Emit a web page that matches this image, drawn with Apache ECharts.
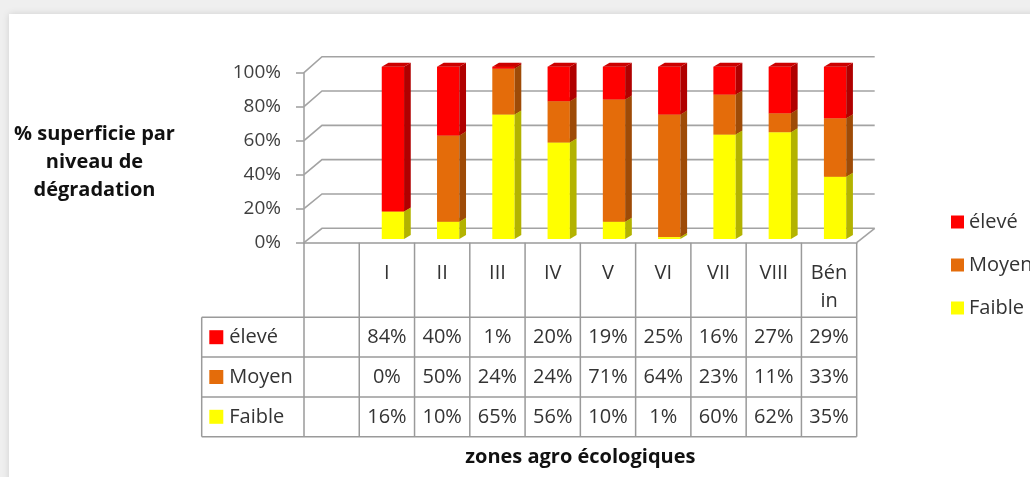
<!DOCTYPE html>
<html>
<head>
<meta charset="utf-8">
<script src="https://cdn.jsdelivr.net/npm/echarts@6/dist/echarts.min.js"></script>
<style>
  html, body { margin: 0; padding: 0; width: 1030px; height: 477px; overflow: hidden; background: #efefef; }
  #panel { position: absolute; left: 9px; top: 14px; width: 1100px; height: 520px; background: #fff; box-shadow: 0 0 7px rgba(0,0,0,0.13); }
  #chart { position: absolute; left: 0; top: 0; width: 1030px; height: 477px; }
</style>
</head>
<body>
<div id="panel"></div>
<div id="chart"></div>
<script>
// ---- data ----
const categories = ['', 'I', 'II', 'III', 'IV', 'V', 'VI', 'VII', 'VIII', 'Bénin'];
const eleve  = [null, 84, 40, 1, 20, 19, 25, 16, 27, 29];
const moyen  = [null, 0, 50, 24, 24, 71, 64, 23, 11, 33];
const faible = [null, 16, 10, 65, 56, 10, 1, 60, 62, 35];
const seriesNames = ['élevé', 'Moyen', 'Faible'];
const yTicks = [0, 20, 40, 60, 80, 100];
const yAxisTitle = '% superficie par\nniveau de\ndégradation';
const xAxisTitle = 'zones agro écologiques';

// ---- styles ----
const FONT = '"Open Sans", "Liberation Sans", sans-serif';
const TXT = '#333333';
const GRID_COLOR = '#a3a3a3';
const TABLE_COLOR = '#9a9a9a';
const palette = {
  'élevé':  { front: '#FF0000', side: '#B00000', top: '#CC0000' },
  'Moyen':  { front: '#E46C0A', side: '#9E4B07', top: '#C05B08' },
  'Faible': { front: '#FFFF00', side: '#B3B300', top: '#DADA00' }
};
const rowValues = [eleve, moyen, faible];

// wrap a label character by character to fit a cell width (like the spreadsheet table)
const measureCtx = document.createElement('canvas').getContext('2d');
function wrapToWidth(text, maxW, font) {
  measureCtx.font = font;
  const lines = [];
  let cur = '';
  for (const ch of text) {
    if (cur && measureCtx.measureText(cur + ch).width > maxW) { lines.push(cur); cur = ch; }
    else cur += ch;
  }
  if (cur) lines.push(cur);
  return lines.join('\n');
}

// ---- 100% stacked segments (bottom-up: Faible, Moyen, élevé) ----
const stackOrder = [['Faible', faible], ['Moyen', moyen], ['élevé', eleve]];
const segs = { 'Faible': [], 'Moyen': [], 'élevé': [] };
for (let i = 0; i < categories.length; i++) {
  if (eleve[i] == null) continue;
  const total = eleve[i] + moyen[i] + faible[i];
  let cum = 0;
  stackOrder.forEach(([name, arr]) => {
    const lo = cum / total * 100;
    cum += arr[i];
    const hi = cum / total * 100;
    segs[name].push([i, lo, hi]);
  });
}

function barRenderer(cols) {
  return function (params, api) {
    const i = api.value(0), lo = api.value(1), hi = api.value(2);
    if (hi - lo <= 0) return;
    const a = api.coord([i, lo]), b = api.coord([i, hi]);
    const w = 22.3, cx = a[0] + 6;
    const xl = cx - w / 2, xr = cx + w / 2;
    const yb = a[1] - 3.7 - 0.023 * lo;
    const yt = b[1] - 3.7 - 0.023 * hi;
    const dx = 6.7, dy = -4;
    return {
      type: 'group',
      children: [
        { type: 'rect', shape: { x: xl, y: yt, width: w, height: yb - yt }, style: { fill: cols.front } },
        { type: 'polygon', shape: { points: [[xr, yb], [xr + dx, yb + dy], [xr + dx, yt + dy], [xr, yt]] }, style: { fill: cols.side } },
        { type: 'polygon', shape: { points: [[xl, yt], [xr, yt], [xr + dx, yt + dy], [xl + dx, yt + dy]] }, style: { fill: cols.top } }
      ]
    };
  };
}

function wallRenderer(params, api) {
  const v = api.value(1);
  const p = api.coord([0, v]);
  const cs = params.coordSys;
  const x0 = cs.x, x1 = cs.x + cs.width;
  const dx = 18, dy = -14.4 - 0.016 * v;
  const children = [{
    type: 'polyline',
    shape: { points: [[x0, p[1]], [x0 + dx, p[1] + dy], [x1 + dx, p[1] + dy]] },
    style: { stroke: GRID_COLOR, lineWidth: 1.6, fill: null }
  }];
  if (v === 0) {
    children.push({ type: 'line', shape: { x1: x1, y1: p[1], x2: x1 + dx, y2: p[1] + dy },
      style: { stroke: GRID_COLOR, lineWidth: 1.6 } });
  }
  return { type: 'group', children };
}

function tableRenderer(params, api) {
  const i = api.value(0);
  const cs = params.coordSys;
  const cw = cs.width / categories.length;
  const p = api.coord([i, 0]);
  const xl = p[0] - cw / 2;
  const top = cs.y + cs.height;
  const hh = 74.6, rh = 39.8;
  const rowsTop = top + hh;
  const bottom = rowsTop + 3 * rh;
  const ls = { stroke: TABLE_COLOR, lineWidth: 1.5 };
  const font = '20px ' + FONT;
  const ch = [];
  ch.push({ type: 'line', shape: { x1: xl, y1: top, x2: xl, y2: bottom }, style: ls });
  if (i === categories.length - 1) {
    ch.push({ type: 'line', shape: { x1: xl + cw, y1: top, x2: xl + cw, y2: bottom }, style: ls });
  }
  ch.push({ type: 'text', x: p[0], y: top + 16, style: {
    text: wrapToWidth(categories[i], cw - 16, font), fill: TXT, font: font,
    align: 'center', verticalAlign: 'top', lineHeight: 28.6 } });
  rowValues.forEach((arr, r) => {
    const v = arr[i];
    if (v == null) return;
    ch.push({ type: 'text', x: p[0], y: rowsTop + rh * (r + 0.5), style: {
      text: v + '%', fill: TXT, font: font, align: 'center', verticalAlign: 'middle' } });
  });
  if (i === 0) {
    const lx = cs.x - 102.3;
    ch.push({ type: 'line', shape: { x1: lx, y1: rowsTop, x2: lx, y2: bottom }, style: ls });
    for (let k = 0; k <= 3; k++) {
      const y = rowsTop + k * rh;
      ch.push({ type: 'line', shape: { x1: lx, y1: y, x2: cs.x + cs.width, y2: y }, style: ls });
    }
    seriesNames.forEach((name, r) => {
      const cy = rowsTop + rh * (r + 0.5);
      ch.push({ type: 'rect', shape: { x: lx + 7.6, y: cy - 7, width: 14, height: 14 }, style: { fill: palette[name].front } });
      ch.push({ type: 'text', x: lx + 27.6, y: cy, style: {
        text: name, fill: TXT, font: font, align: 'left', verticalAlign: 'middle' } });
    });
  }
  return { type: 'group', children: ch };
}

const chart = echarts.init(document.getElementById('chart'), null, { renderer: 'canvas' });
chart.setOption({
  animation: false,
  backgroundColor: 'transparent',
  textStyle: { fontFamily: FONT },
  title: {
    text: yAxisTitle,
    left: 94.5, top: 120,
    textAlign: 'center',
    padding: 0,
    textStyle: { fontSize: 20, fontWeight: 'bold', color: '#111', fontFamily: FONT, lineHeight: 28, align: 'center' }
  },
  grid: { left: 304, right: 173.3, top: 72.7, bottom: 234.3, containLabel: false },
  legend: {
    data: seriesNames,
    orient: 'vertical',
    left: 946, top: 207,
    itemWidth: 13, itemHeight: 13, itemGap: 23,
    icon: 'rect',
    textStyle: { fontSize: 20, color: TXT, fontFamily: FONT, lineHeight: 20 },
    selectedMode: false
  },
  xAxis: {
    type: 'category',
    data: categories,
    axisLine: { show: true, lineStyle: { color: TABLE_COLOR, width: 1.5 } },
    axisTick: { show: false },
    axisLabel: { show: false },
    splitLine: { show: false },
    name: xAxisTitle,
    nameLocation: 'middle',
    nameGap: 214.3,
    nameTextStyle: { fontSize: 20, fontWeight: 'bold', color: '#111', fontFamily: FONT, verticalAlign: 'middle' }
  },
  yAxis: {
    type: 'value',
    min: 0, max: 100, interval: 20,
    axisLine: { show: true, lineStyle: { color: GRID_COLOR, width: 1.6 } },
    axisTick: { show: true, length: 8, lineStyle: { color: GRID_COLOR, width: 1.6 } },
    axisLabel: { formatter: '{value}%', fontSize: 19, color: '#404040', margin: 23, fontFamily: FONT },
    splitLine: { show: false }
  },
  series: [
    { type: 'custom', name: 'wall', silent: true, z: 1, renderItem: wallRenderer,
      data: yTicks.map(v => [0, v]), encode: { x: 0, y: 1 } },
    { type: 'custom', name: 'Faible', z: 2, renderItem: barRenderer(palette['Faible']),
      itemStyle: { color: palette['Faible'].front }, data: segs['Faible'], encode: { x: 0, y: [1, 2] } },
    { type: 'custom', name: 'Moyen', z: 2, renderItem: barRenderer(palette['Moyen']),
      itemStyle: { color: palette['Moyen'].front }, data: segs['Moyen'], encode: { x: 0, y: [1, 2] } },
    { type: 'custom', name: 'élevé', z: 2, renderItem: barRenderer(palette['élevé']),
      itemStyle: { color: palette['élevé'].front }, data: segs['élevé'], encode: { x: 0, y: [1, 2] } },
    { type: 'custom', name: 'table', silent: true, z: 3, renderItem: tableRenderer,
      data: categories.map((c, i) => [i, 0]), encode: { x: 0, y: 1 } }
  ]
});
</script>
</body>
</html>
